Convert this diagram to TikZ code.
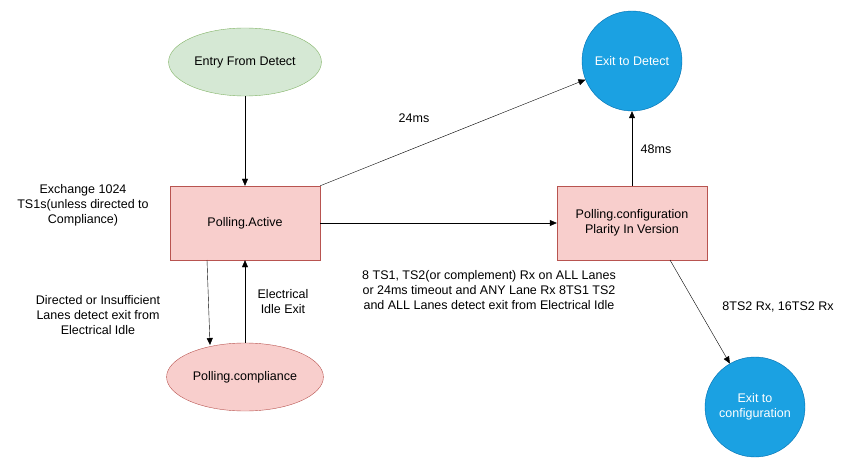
\documentclass[tikz,border=0pt]{standalone}
\usepackage{fontspec}
\setmainfont{Liberation Sans}
\usetikzlibrary{shapes.geometric, arrows.meta}
\definecolor{greenfill}{HTML}{D5E8D4}
\definecolor{greenline}{HTML}{82B366}
\definecolor{redfill}{HTML}{F8CECC}
\definecolor{redline}{HTML}{B85450}
\definecolor{bluefill}{HTML}{1BA1E2}
\definecolor{blueline}{HTML}{006EAF}
\tikzset{
  state/.style={draw=redline, fill=redfill, minimum width=150pt, minimum height=74pt, align=center},
  oval/.style={ellipse, minimum width=150pt, minimum height=68pt, align=center},
  exit/.style={circle, draw=blueline, fill=bluefill, text=white, minimum size=100pt, align=center, inner sep=0pt},
  lbl/.style={align=center},
  arr/.style={-{Triangle[length=7pt,width=6pt]}}
}
\begin{document}
\begin{tikzpicture}[x=1pt, y=-1pt, font=\fontsize{12.5}{15}\selectfont]
	\useasboundingbox (0,0) rectangle (860,468);
	% states
	\node[oval, draw=greenline, fill=greenfill] (entry) at (245,62) {Entry From Detect};
	\node[state] (active) at (245,223) {Polling.Active};
	\node[state] (config) at (632,223) {Polling.configuration\\Plarity In Version};
	\node[oval, draw=redline, fill=redfill] (compl) at (245,377) {Polling.compliance};
	\node[exit] (exitdet) at (632,61) {Exit to Detect};
	\node[exit] (exitcfg) at (755,407) {Exit to\\configuration};
	\coordinate (cfgout) at (670,260);
	\coordinate (actout) at (207,260);
	\coordinate (cmpin) at (210,345);
	% connectors
	\draw[arr] (entry) -- (active);
	\draw[arr] (active.north east) -- (exitdet);
	\draw[arr] (active) -- (config);
	\draw[arr] (config) -- (exitdet);
	\draw[arr] (cfgout) -- (exitcfg);
	\draw[arr] (actout) -- (cmpin);
	\draw[arr] (compl) -- (active);
	% labels
	\node[lbl] (l24) at (414,118) {24ms};
	\node[lbl] (l48) at (656,149) {48ms};
	\node[lbl] (lts2) at (778,307) {8TS2 Rx, 16TS2 Rx};
	\node[lbl] (lexch) at (83,205) {Exchange 1024\\TS1s(unless directed to\\Compliance)};
	\node[lbl] (ldir) at (98,315) {Directed or Insufficient\\Lanes detect exit from\\Electrical Idle};
	\node[lbl] (lidle) at (283,302) {Electrical\\Idle Exit};
	\node[lbl] (lcond) at (489,290) {8 TS1, TS2(or complement) Rx on ALL Lanes\\or 24ms timeout and ANY Lane Rx 8TS1 TS2\\and ALL Lanes detect exit from Electrical Idle};
\end{tikzpicture}
\end{document}
